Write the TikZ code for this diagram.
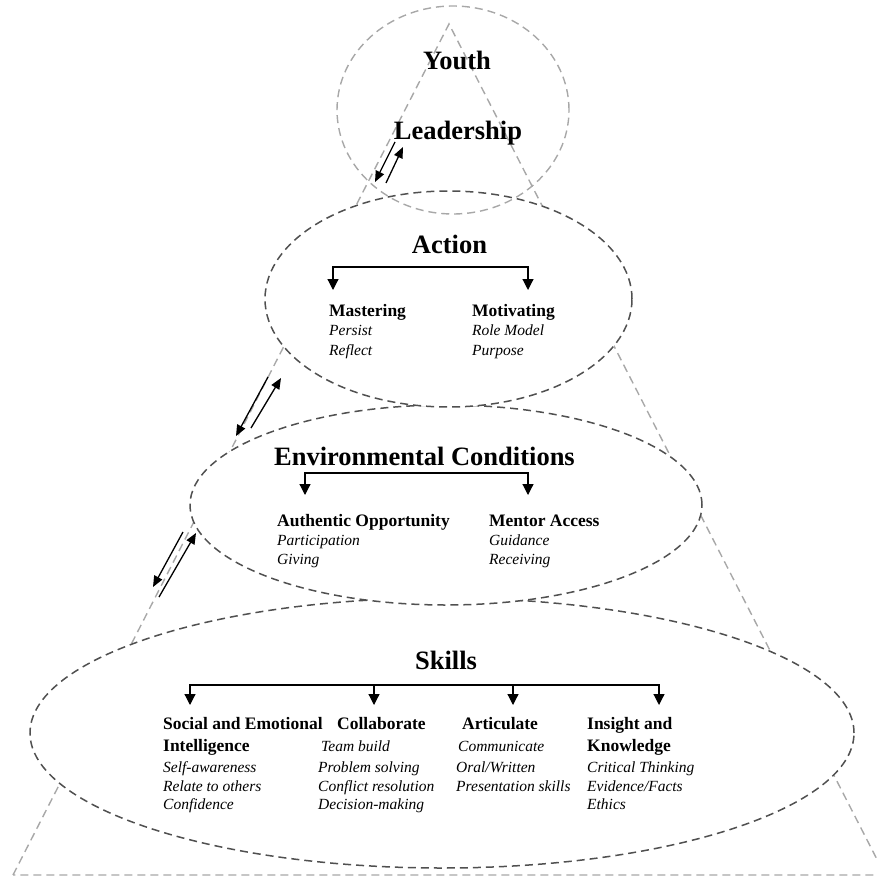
\documentclass[tikz,border=0pt]{standalone}
\usepackage{fontspec}
\setmainfont{Liberation Serif}
\usetikzlibrary{arrows.meta, shapes.geometric, positioning}

\definecolor{ringgray}{HTML}{505050}
\definecolor{conegray}{HTML}{A8A8A8}

\begin{document}
\begin{tikzpicture}[
		x=1pt, y=-1pt,
		layer/.style={
			ellipse,
			draw=ringgray,
			line width=1.5pt,
			dash pattern=on 8pt off 5pt,
			fill=white,
			inner sep=0
		},
		cone/.style={
			draw=conegray,
			line width=1.4pt,
			dash pattern=on 8pt off 5pt
		},
		title/.style={font=\fontsize{26.5}{30}\selectfont\bfseries, inner sep=0, anchor=base},
		head/.style={font=\fontsize{17.5}{20}\selectfont\bfseries, inner sep=0, anchor=base west},
		item/.style={font=\fontsize{15.5}{19}\selectfont\itshape, inner sep=0, anchor=base west},
		branch/.style={line width=1.2pt, {Triangle[width=11pt,length=11pt]}-{Triangle[width=11pt,length=11pt]}},
		drop/.style={line width=1.2pt, -{Triangle[width=11pt,length=11pt]}},
		link/.style={line width=1.3pt, -{Triangle[width=9pt,length=11pt]}}
	]
	
	\useasboundingbox (0,0) rectangle (877,877);
	
	% Cone behind the layers
	\coordinate (apex) at (449,24);
	\coordinate (base-l) at (13,875);
	\coordinate (base-r) at (885,875);
	\draw[cone] (base-l) -- (apex) -- (base-r) -- cycle;
	
	% Layers
	\node[layer, minimum width=824pt, minimum height=270pt] (skills) at (442,733) {};
	\node[layer, minimum width=512pt, minimum height=200pt] (env) at (446,505) {};
	\node[layer, minimum width=367pt, minimum height=216pt] (act) at (448.5,299) {};
	\node[ellipse, cone, minimum width=232pt, minimum height=208pt, inner sep=0] (lead) at (453,110) {};
	
	% Titles
	\node[title] (youth-t) at (457,70) {Youth};
	\node[title] (lead-t) at (458,140) {Leadership};
	\node[title] (act-t) at (449.5,254) {Action};
	\node[title] (env-t) at (424.5,465) {Environmental Conditions};
	\node[title] (skills-t) at (446,669) {Skills};
	
	% Action
	\node[head] (mast) at (329,316) {Mastering};
	\node[item] (mast-1) at (329,335) {Persist};
	\node[item] (mast-2) at (329,355) {Reflect};
	\node[head] (motiv) at (472,316) {Motivating};
	\node[item] (motiv-1) at (472,335) {Role Model};
	\node[item] (motiv-2) at (472,355) {Purpose};
	
	% Environmental conditions
	\node[head] (auth) at (277,526) {Authentic Opportunity};
	\node[item] (auth-1) at (277,545) {Participation};
	\node[item] (auth-2) at (277,564) {Giving};
	\node[head] (ment) at (489,526) {Mentor Access};
	\node[item] (ment-1) at (489,545) {Guidance};
	\node[item] (ment-2) at (489,564) {Receiving};
	
	% Skills
	\node[head] (soc) at (163,729) {Social and Emotional};
	\node[head] (soc-0) at (163,751) {Intelligence};
	\node[item] (soc-1) at (163,772) {Self-awareness};
	\node[item] (soc-2) at (163,791) {Relate to others};
	\node[item] (soc-3) at (163,809) {Confidence};
	
	\node[head] (coll) at (337,729) {Collaborate};
	\node[item] (coll-1) at (321,751) {Team build};
	\node[item] (coll-2) at (318,772) {Problem solving};
	\node[item] (coll-3) at (318,791) {Conflict resolution};
	\node[item] (coll-4) at (318,809) {Decision-making};
	
	\node[head] (art) at (462,729) {Articulate};
	\node[item] (art-1) at (458,751) {Communicate};
	\node[item] (art-2) at (456,772) {Oral/Written};
	\node[item] (art-3) at (456,791) {Presentation skills};
	
	\node[head] (ins) at (587,729) {Insight and};
	\node[head] (ins-0) at (587,751) {Knowledge};
	\node[item] (ins-1) at (587,772) {Critical Thinking};
	\node[item] (ins-2) at (587,791) {Evidence/Facts};
	\node[item] (ins-3) at (587,809) {Ethics};
	
	% Branches
	\coordinate (act-l) at (333,290);
	\coordinate (act-r) at (528,290);
	\coordinate (act-bar) at (430,267);
	\draw[branch] (act-l) |- (act-bar) -| (act-r);
	
	\coordinate (env-l) at (305,495);
	\coordinate (env-r) at (528,495);
	\coordinate (env-bar) at (416,473);
	\draw[branch] (env-l) |- (env-bar) -| (env-r);
	
	\coordinate (sk-1) at (190,705);
	\coordinate (sk-2) at (374,705);
	\coordinate (sk-3) at (513,705);
	\coordinate (sk-4) at (659,705);
	\coordinate (sk-bar) at (424,685);
	\draw[branch] (sk-1) |- (sk-bar) -| (sk-4);
	\draw[drop] (sk-2 |- sk-bar) -- (sk-2);
	\draw[drop] (sk-3 |- sk-bar) -- (sk-3);
	
	% Links between layers
	\coordinate (la-1) at (395,142);
	\coordinate (la-2) at (375,182);
	\coordinate (la-3) at (386,183);
	\coordinate (la-4) at (403,147);
	\draw[link] (la-1) -- (la-2);
	\draw[link] (la-3) -- (la-4);
	
	\coordinate (ae-1) at (268,377);
	\coordinate (ae-2) at (236,436);
	\coordinate (ae-3) at (251,428);
	\coordinate (ae-4) at (281,378);
	\draw[link] (ae-1) -- (ae-2);
	\draw[link] (ae-3) -- (ae-4);
	
	\coordinate (es-1) at (183,532);
	\coordinate (es-2) at (153,587);
	\coordinate (es-3) at (159,597);
	\coordinate (es-4) at (196,533);
	\draw[link] (es-1) -- (es-2);
	\draw[link] (es-3) -- (es-4);
	
\end{tikzpicture}
\end{document}
